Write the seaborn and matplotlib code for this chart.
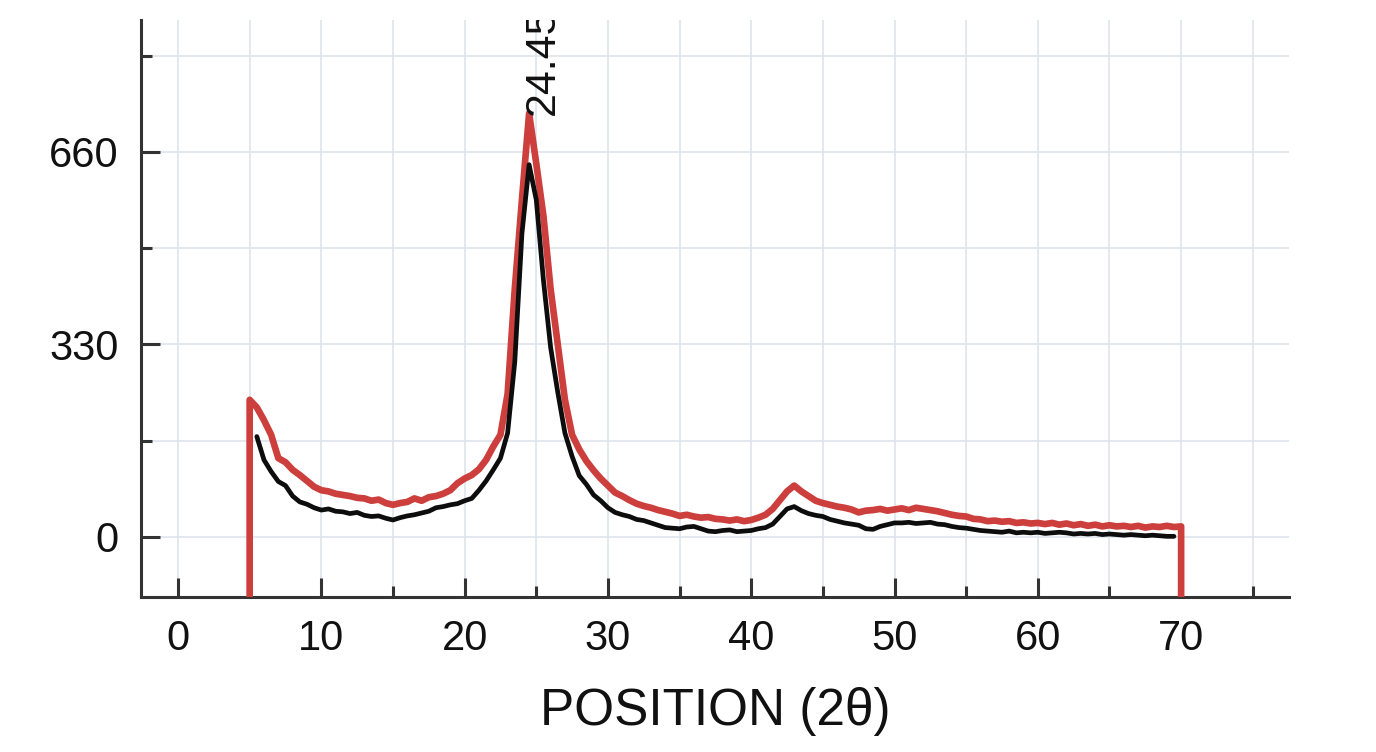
import numpy as np
import pandas as pd
import seaborn as sns
import matplotlib.pyplot as plt
from matplotlib.ticker import MultipleLocator

# scan grid (2 theta) and intensities
red_theta = np.arange(5.0, 70.01, 0.5)
red_counts = [
    235, 222, 200, 175, 135, 128, 115, 106, 96, 86,
    80, 78, 74, 72, 70, 67, 66, 62, 64, 58,
    55, 58, 60, 66, 62, 68, 70, 74, 80, 92,
    100, 106, 116, 132, 155, 175, 245, 425, 578, 726,
    640, 550, 425, 330, 235, 175, 150, 130, 114, 100,
    88, 76, 70, 63, 57, 53, 50, 46, 43, 40,
    36, 38, 35, 33, 34, 31, 30, 28, 30, 27,
    29, 33, 38, 48, 63, 78, 88, 78, 70, 62,
    58, 55, 52, 50, 47, 42, 45, 46, 48, 45,
    47, 49, 46, 50, 48, 46, 44, 41, 38, 36,
    35, 31, 30, 27, 28, 26, 27, 24, 25, 23,
    24, 22, 24, 21, 23, 20, 22, 19, 21, 18,
    20, 18, 19, 17, 19, 16, 18, 17, 19, 17,
    18,
]

black_theta = np.arange(5.5, 69.51, 0.5)
black_counts = [
    172, 132, 112, 95, 88, 70, 60, 56, 50, 46,
    48, 44, 43, 40, 42, 37, 35, 36, 32, 29,
    33, 36, 38, 41, 44, 50, 52, 55, 57, 62,
    66, 80, 96, 115, 135, 178, 300, 520, 638, 578,
    440, 325, 248, 178, 138, 105, 90, 72, 62, 50,
    42, 38, 35, 30, 28, 24, 20, 16, 15, 14,
    17, 18, 14, 10, 9, 11, 12, 9, 10, 11,
    14, 16, 22, 35, 48, 52, 45, 40, 37, 35,
    30, 27, 24, 22, 20, 14, 13, 18, 21, 24,
    24, 25, 23, 24, 25, 22, 21, 18, 16, 15,
    13, 11, 10, 9, 8, 10, 7, 8, 7, 8,
    6, 7, 8, 7, 5, 6, 5, 6, 4, 5,
    4, 3, 4, 3, 2, 3, 2, 1, 1,
]

peak_pos = 24.45
floor = -150  # red trace drops off below the axis at both scan ends

red = pd.DataFrame({
    "theta": np.concatenate([[red_theta[0]], red_theta, [red_theta[-1]]]),
    "counts": [floor] + red_counts + [floor],
})
black = pd.DataFrame({"theta": black_theta, "counts": black_counts})

sns.set_style("white")
plt.rcParams["font.family"] = ["Liberation Sans", "DejaVu Sans"]

fig = plt.figure(figsize=(13.76, 7.52), dpi=100)
ax = fig.add_axes([0.1025, 0.2061, 0.8343, 0.7673])

sns.lineplot(data=red, x="theta", y="counts", color="#cc3f3c", linewidth=4.8,
             estimator=None, sort=False, ax=ax, zorder=3)
sns.lineplot(data=black, x="theta", y="counts", color="#0d0d0d", linewidth=3.4,
             estimator=None, sort=False, ax=ax, zorder=4)

ax.set_xlim(-2.58, 77.53)
ax.set_ylim(-103, 886)

ax.xaxis.set_major_locator(MultipleLocator(10))
ax.xaxis.set_minor_locator(MultipleLocator(5))
ax.yaxis.set_major_locator(MultipleLocator(330))
ax.yaxis.set_minor_locator(MultipleLocator(165))

ax.grid(True, which="both", color="#dde4ea", lw=1.2)
ax.set_axisbelow(True)

for side in ["top", "right"]:
    ax.spines[side].set_visible(False)
for side in ["left", "bottom"]:
    ax.spines[side].set_color("#333333")
    ax.spines[side].set_linewidth(2.2)

ax.tick_params(which="both", direction="in", bottom=True, left=True,
               color="#333333", width=2.2, labelsize=30, pad=16,
               labelcolor="#111111")
ax.tick_params(which="major", length=14)
ax.tick_params(which="minor", length=8)

ax.set_xlabel("POSITION (2θ)", fontsize=37, labelpad=20, color="#111111")
ax.set_ylabel("")

ax.text(24.1, 723, f"{peak_pos:.2f}", rotation=90, ha="left", va="bottom",
        fontsize=31, color="#111111", clip_on=True)

fig.savefig("out.png", dpi=100, facecolor="white")
